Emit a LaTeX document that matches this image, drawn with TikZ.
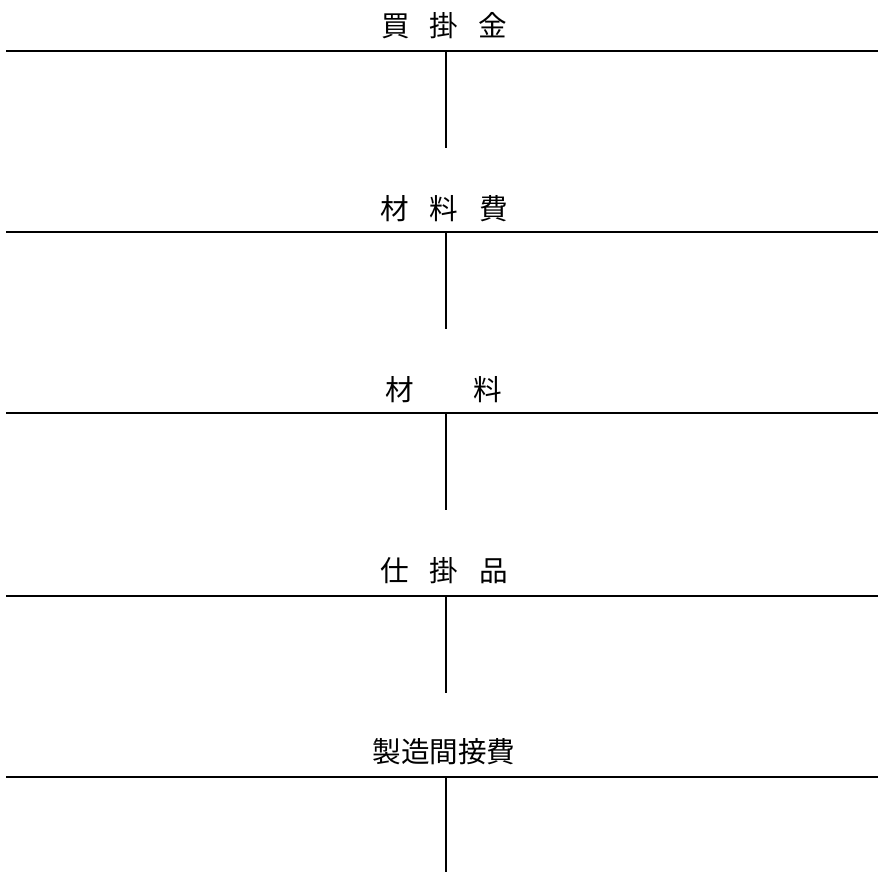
\documentclass[tikz,border=0pt]{standalone}
\usepackage{fontspec}
\newfontfamily\jp{Noto Sans CJK JP}
\begin{document}
\begin{tikzpicture}[yscale=-1,x=1pt,y=1pt,
  title/.style={font=\jp\fontsize{28.6}{30}\selectfont,inner sep=0pt},
  rule/.style={line width=2pt},
  split/.style={line width=1.6pt}]
  \useasboundingbox (0,0) rectangle (878,871);

  \node[title] (kaikake) at (444,26) {買\kern20pt 掛\kern20pt 金};
  \node[title] (zairyohi) at (444,209) {材\kern21pt 料\kern21pt 費};
  \node[title] (zairyo) at (444,390) {材\kern60pt 料};
  \node[title] (shikakari) at (444,571) {仕\kern21pt 掛\kern21pt 品};
  \node[title] (seizo) at (444,752) {製造間接費};

  \foreach \acc/\y in {kaikake/51,zairyohi/232,zairyo/413,shikakari/596,seizo/777}
  {
    \coordinate (\acc-l) at (6,\y);
    \coordinate (\acc-r) at (878,\y);
    \coordinate (\acc-t) at (446,\y);
    \coordinate (\acc-b) at (446,\y+97);
    \draw[rule] (\acc-l) -- (\acc-r);
    \draw[split] (\acc-t) -- (\acc-b);
  }
\end{tikzpicture}
\end{document}
